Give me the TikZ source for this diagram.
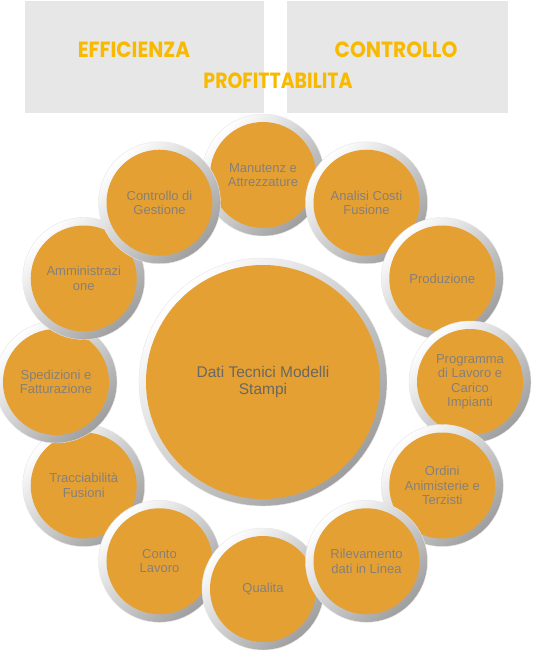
\documentclass[tikz,border=0pt]{standalone}
\usepackage{fontspec}
\setmainfont{Liberation Sans}
\newfontfamily\headfont{Poppins}
\usepackage{tikz}
\usetikzlibrary{positioning, calc}
\definecolor{discorange}{HTML}{E5A033}
\definecolor{labelgray}{HTML}{868078}
\definecolor{headyellow}{HTML}{F8BA00}
\definecolor{panelgray}{HTML}{E7E7E7}

\begin{document}
\begin{tikzpicture}[x=1pt, y=1pt,
    panel/.style={fill=panelgray, inner sep=0pt, minimum height=112pt},
    headline/.style={font=\headfont\bfseries\fontsize{22}{22}\selectfont, text=headyellow, inner sep=0pt},
    bubble/.style={circle, minimum size=122pt, inner sep=0pt, draw=black!10,
      top color=white, bottom color=black!38, shading angle=45,
      path picture={\fill[discorange] (path picture bounding box.center) circle (53pt);},
      text=labelgray, align=center, font=\fontsize{13}{14.5}\selectfont},
    hubdisc/.style={circle, minimum size=248pt, inner sep=0pt, draw=black!10,
      top color=white, bottom color=black!38, shading angle=45,
      path picture={\fill[discorange] (path picture bounding box.center) circle (117pt);},
      text=labelgray!80!black, align=center, font=\fontsize{15.5}{16.5}\selectfont}]
  \useasboundingbox (-263,-274) rectangle (274,382);

  % grey panels on top with the three headings
  \node[panel, minimum width=239pt] (effbox) at (-118.5,325) {};
  \node[panel, minimum width=221pt] (ctrlbox) at (134.5,325) {};
  \node[headline] (eff) at (-129,332) {\scalebox{0.91}[1]{EFFICIENZA}};
  \node[headline] (ctrl) at (133,332) {\scalebox{0.92}[1]{CONTROLLO}};
  \node[headline] (profit) at (15,301) {\scalebox{0.86}[1]{PROFITTABILITA}};

  % central disc
  \node[hubdisc] (hub) at (0,0) {Dati Tecnici Modelli\\Stampi};

  % ring of twelve discs round the centre (later ones lie on top)
  \node[bubble] (manut) at (90:207) {Manutenz e\\Attrezzature};
  \node[bubble] (tracc) at (-150:207) {Tracciabilità\\Fusioni};
  \node[bubble] (sped) at (180:207) {Spedizioni e\\Fatturazione};
  \node[bubble] (ammin) at (150:207) {Amministrazi\\one};
  \node[bubble] (contr) at (120:207) {Controllo di\\Gestione};
  \node[bubble] (costi) at (60:207) {Analisi Costi\\Fusione};
  \node[bubble] (prod) at (30:207) {Produzione};
  \node[bubble] (prog) at (0:207) {Programma\\di Lavoro e\\Carico\\Impianti};
  \node[bubble] (ordini) at (-30:207) {Ordini\\Animisterie e\\Terzisti};
  \node[bubble] (conto) at (-120:207) {Conto\\Lavoro};
  \node[bubble] (qual) at (-90:207) {Qualita};
  \node[bubble] (rilev) at (-60:207) {Rilevamento\\dati in Linea};
\end{tikzpicture}
\end{document}
